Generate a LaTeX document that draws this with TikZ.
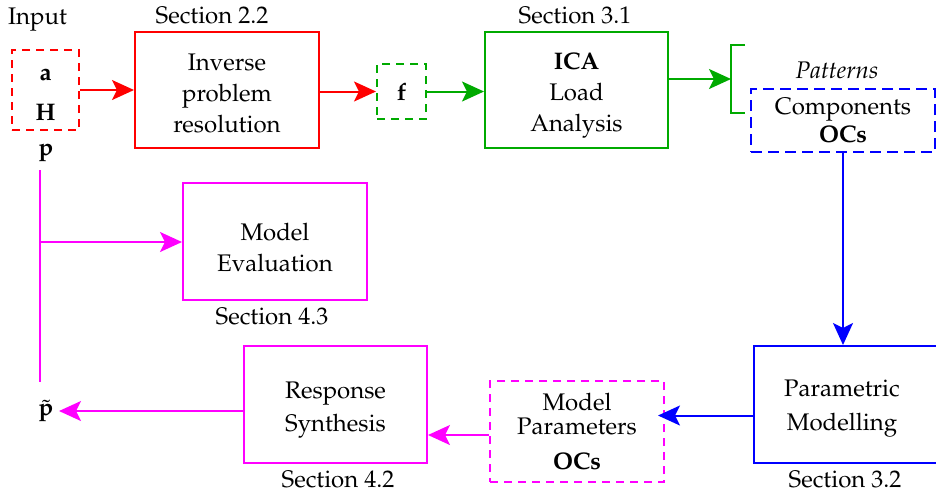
\documentclass[tikz,border=0pt]{standalone}
\usepackage[T1]{fontenc}
\usepackage{mathpazo}
\usetikzlibrary{arrows.meta}
\definecolor{cred}{RGB}{255,0,0}
\definecolor{cgreen}{RGB}{0,170,0}
\definecolor{cblue}{RGB}{0,0,255}
\definecolor{cmag}{RGB}{255,0,255}
\newcommand\mylift[1]{\rule{0pt}{#1}}
\tikzset{
  base/.style={font=\fontsize{12}{15.5}\selectfont},
  solidbox/.style={draw,line width=1pt,inner sep=0pt,align=center},
  dashbox/.style={draw,line width=1pt,inner sep=0pt,align=center,dash pattern=on 4pt off 3pt},
  conn/.style={line width=1pt,-{Stealth[length=11pt,width=10pt,inset=2.5pt]}},
  plainline/.style={line width=1pt},
  lbl/.style={inner sep=0pt,align=center}
}
\begin{document}
\begin{tikzpicture}[x=0.5pt,y=-0.5pt,base]
\useasboundingbox (0,0) rectangle (936,495);
% labels
\node[lbl] (input) at (37.5,20) {Input};
\node[lbl] (s22) at (212,15) {Section 2.2};
\node[lbl] (s31) at (575,15) {Section 3.1};
\node[lbl] (s43) at (272,316) {Section 4.3};
\node[lbl] (s42) at (338,479) {Section 4.2};
\node[lbl] (s32) at (845,479) {Section 3.2};
% top row
\node[dashbox,cred,text=black,minimum width=33.5pt,minimum height=40pt] (inbox) at (45.5,90) {\mylift{11.1pt}\textbf{a}\\[4.5pt]\textbf{H}};
\node[solidbox,cred,text=black,minimum width=92pt,minimum height=58pt] (inv) at (227,90) {\mylift{11.8pt}Inverse\\problem\\resolution};
\node[dashbox,cgreen,text=black,minimum width=24.5pt,minimum height=27.5pt] (fbox) at (401.5,91.5) {\textbf{f}};
\node[solidbox,cgreen,text=black,minimum width=91.5pt,minimum height=58pt] (ica) at (576.5,90) {\mylift{14.3pt}\textbf{ICA}\\Load\\Analysis};
\coordinate (brk) at (731,79);
\coordinate (brtop) at (731,45);
\coordinate (brbot) at (731,113);
\coordinate (brtopr) at (745,45);
\coordinate (brbotr) at (745,113);
\node[lbl,font=\fontsize{12}{15.5}\selectfont\itshape] (pat) at (837,70) {Patterns};
\node[dashbox,cblue,text=black,dash pattern=on 5.5pt off 3pt,minimum width=92pt,minimum height=31.5pt] (comps) at (843,120.5) {Components\\[-1.5pt]\textbf{OCs}};
% p
\node[lbl] (p) at (46,153) {$\mathbf{p}$};
\coordinate (vtop) at (40,170);
\coordinate (vbr) at (40,242);
\coordinate (vbot) at (40,382);
\node[solidbox,cmag,text=black,minimum width=92pt,minimum height=58.5pt] (meval) at (275,241.5) {\mylift{14.7pt}Model\\Evaluation};
% bottom row
\node[solidbox,cblue,minimum width=95pt,minimum height=58.5pt] (param) at (849,404.5) {};
\node[lbl] (paramtxt) at (842,409) {Parametric\\[1.5pt]Modelling};
\node[dashbox,cmag,text=black,minimum width=87pt,minimum height=50.5pt] (mp) at (577,431.5) {Model\\[-3.5pt]Parameters\\[2pt]\textbf{OCs}};
\node[solidbox,cmag,text=black,minimum width=91.5pt,minimum height=58.5pt] (resp) at (335.5,404.5) {\mylift{14.3pt}Response\\[1pt]Synthesis};
\node[lbl] (pt) at (46,411) {$\tilde{\mathbf{p}}$};
% connectors
\draw[conn,cred] (inbox) -- (inv);
\draw[conn,cred] (inv.east |- fbox) -- (fbox);
\draw[conn,cgreen] (fbox) -- (fbox -| ica.west);
\draw[conn,cgreen] (ica.east |- brk) -- (brk);
\draw[plainline,cgreen] (brtopr) -- (brtop) -- (brbot) -- (brbotr);
\draw[conn,cblue] (comps.south) -- (comps.south |- param.north);
\draw[conn,cblue,shorten >=-3.5pt] ([yshift=-5.5pt]param.west) -- ([yshift=-5.5pt]param.west -| mp.east);
\draw[conn,cmag] ([yshift=-1.75pt]mp.west) -- ([yshift=-1.75pt]mp.west -| resp.east);
\draw[conn,cmag,shorten >=2.5pt] ([yshift=-3.25pt]resp.west) -- ([yshift=-3.25pt]resp.west -| pt.east);
\draw[plainline,cmag] (vtop) -- (vbot);
\draw[conn,cmag] (vbr) -- (vbr -| meval.west);
\end{tikzpicture}
\end{document}
